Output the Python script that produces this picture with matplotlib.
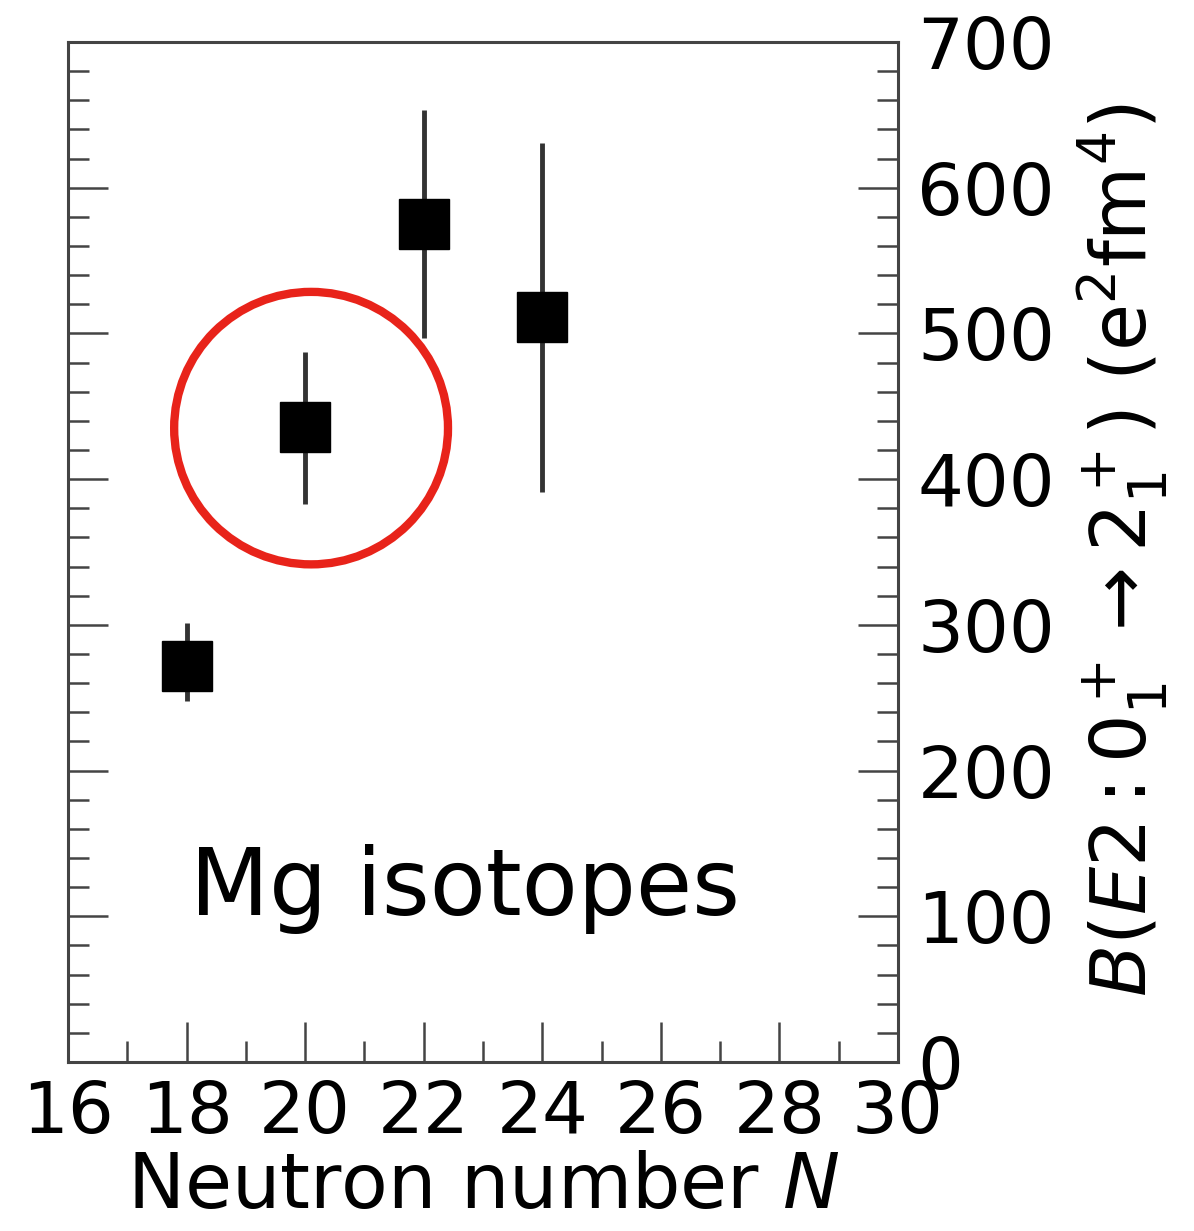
import matplotlib
matplotlib.use('Agg')
import matplotlib.pyplot as plt
from matplotlib.patches import Ellipse
from matplotlib.ticker import MultipleLocator

# B(E2) values for Mg isotopes
neutrons = [18, 20, 22, 24]
be2 = [272, 436, 575, 511]
err_low = [24, 53, 78, 120]
err_high = [29, 51, 78, 120]

fig = plt.figure(figsize=(11.94, 12.31), dpi=100)
ax = fig.add_axes([0.057, 0.1373, 0.695, 0.8286])

ax.errorbar(neutrons, be2, yerr=[err_low, err_high], fmt='s', color='black',
            markersize=36, ecolor='#333333', elinewidth=3.5, capsize=0, zorder=3)

# highlight N = 20
ax.add_patch(Ellipse((20.1, 435), 4.62, 187, fill=False, edgecolor='#e8231a',
                     linewidth=6, zorder=4))

ax.text(18.05, 101, 'Mg isotopes', fontsize=66, ha='left', va='baseline')

ax.set_xlim(16, 30)
ax.set_ylim(0, 700)
ax.xaxis.set_major_locator(MultipleLocator(2))
ax.xaxis.set_minor_locator(MultipleLocator(1))
ax.yaxis.set_major_locator(MultipleLocator(100))
ax.yaxis.set_minor_locator(MultipleLocator(20))

ax.tick_params(axis='both', which='both', direction='in', colors='#444444',
               labelcolor='black', labelsize=52, width=1.8)
ax.tick_params(which='major', length=29)
ax.tick_params(which='minor', length=15)
ax.tick_params(axis='x', which='both', top=False, pad=12)
ax.tick_params(axis='y', which='both', left=True, right=True,
               labelleft=False, labelright=True, pad=14)

for spine in ax.spines.values():
    spine.set_color('#444444')
    spine.set_linewidth(2.2)

ax.set_xlabel('Neutron number $N$', fontsize=55, labelpad=2)
ax.set_ylabel(r'$B(E2:0^+_1\rightarrow 2^+_1)$ (e$^2$fm$^4$)', fontsize=55,
              rotation=90)
ax.yaxis.set_label_position('right')
ax.yaxis.set_label_coords(1.214, 0.502)

fig.savefig('out.png', dpi=100)
